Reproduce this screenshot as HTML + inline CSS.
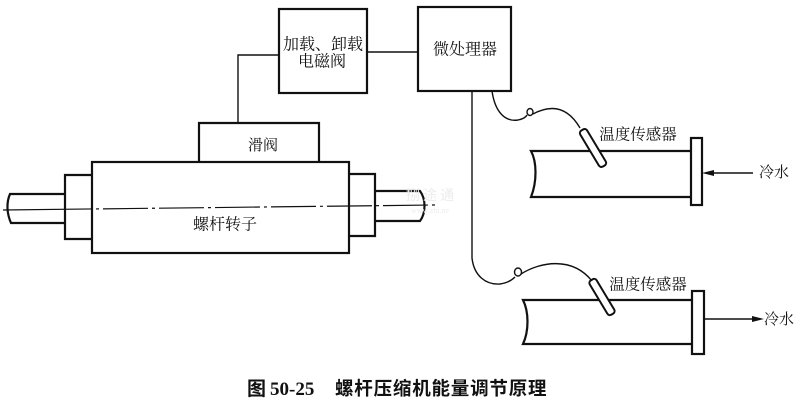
<!DOCTYPE html>
<html><head><meta charset="utf-8"><style>
html,body{margin:0;padding:0;background:#fff;}
svg{display:block;}
.t{font-family:"Liberation Serif","Noto Serif CJK SC",serif;font-size:15.5px;fill:#111;}
</style></head><body>
<svg width="803" height="401" viewBox="0 0 803 401" xmlns="http://www.w3.org/2000/svg">
<g fill="none" stroke="#111" stroke-width="2.2" stroke-linejoin="miter">
  <rect x="279" y="9" width="88" height="84"/>
  <rect x="418" y="7" width="93" height="84"/>
  <path d="M199,162 L199,123 L319,123 L319,162"/>
  <rect x="92" y="162" width="257" height="91"/>
  <path d="M92,175 L65,175 L65,239 L92,239"/>
  <path d="M349,174 L375,174 L375,236 L349,236"/>
  <path d="M65,194 L10,194 C6,203 7,214 11,223 L65,223"/>
  <path d="M375,191 L420,191 C426,199 426,213 420,221 L375,221"/>
  <path d="M691,151 L531,151 C537,162 537,182 531,197 L691,197"/>
  <rect x="691" y="138" width="11" height="67"/>
  <path d="M692,300 L523,300 C529,312 529,331 523,344 L692,344"/>
  <rect x="692" y="291" width="12" height="63"/>
</g>
<g fill="none" stroke="#111" stroke-width="1.4">
  <path d="M279,55 L238,55 L238,123"/>
  <path d="M367,52 L418,52"/>
  <path d="M472,91 L472,258 C474,276 486,285 500,284 C508,283 512,280 515,277"/>
  <ellipse cx="518" cy="272" rx="3.5" ry="4"/>
  <path d="M521,274 C540,262 572,256 592,281"/>
  <path d="M492,91 C495,112 505,122 518,120 C523,119 526,117 527,115"/>
  <ellipse cx="530" cy="112" rx="3" ry="3.5"/>
  <path d="M533,114 C548,106 566,104 580,128"/>
  <path d="M753,173 L712,173"/>
  <path d="M704,319 L755,319"/>
</g>
<polygon points="702,173 714,170 714,176" fill="#111"/>
<polygon points="764,319 752,316 752,322" fill="#111"/>
<g fill="#fff" stroke="#111" stroke-width="2">
  <rect x="-4" y="-21" width="8" height="42" rx="3" transform="translate(593,148) rotate(-31)"/>
  <rect x="-4" y="-20" width="8" height="40" rx="3" transform="translate(602,297) rotate(-31)"/>
</g>
<path d="M3,210 L435,205" stroke="#111" stroke-width="1.2" stroke-dasharray="90 3 3 4 45 4 3 4 45 4 3 4 45 4 3 4 45 4 3 4 45 4 3 4 45 4 3 4 60" fill="none"/>
<text x="430" y="200" font-family="Noto Sans CJK SC, sans-serif" font-size="14" fill="#ececec" text-anchor="middle">捌 途 通</text>
<text x="430" y="213" font-family="Liberation Serif, serif" font-size="8" fill="#ececec" text-anchor="middle">www.zhi.ne</text>
<g class="t" text-anchor="middle" dominant-baseline="central">
  <text x="323" y="45" font-size="16">加载、卸载</text>
  <text x="322" y="62" font-size="16">电磁阀</text>
  <text x="465" y="50" font-size="16">微处理器</text>
  <text x="263" y="146" font-size="15">滑阀</text>
  <text x="225" y="225" font-size="16">螺杆转子</text>
  <text x="638" y="135">温度传感器</text>
  <text x="648" y="285">温度传感器</text>
  <text x="774" y="173" font-size="15">冷水</text>
  <text x="779" y="320" font-size="15">冷水</text>
</g>
<text x="247" y="395" font-family="Liberation Serif, serif" font-size="19" font-weight="bold" fill="#111"><tspan font-family="Noto Sans CJK SC, sans-serif">图</tspan><tspan dx="4">50-25</tspan></text>
<text x="335" y="395" font-family="Liberation Sans, Noto Sans CJK SC, sans-serif" font-size="18.5" font-weight="bold" fill="#111" letter-spacing="0.8">螺杆压缩机能量调节原理</text>
</svg>
</body></html>
